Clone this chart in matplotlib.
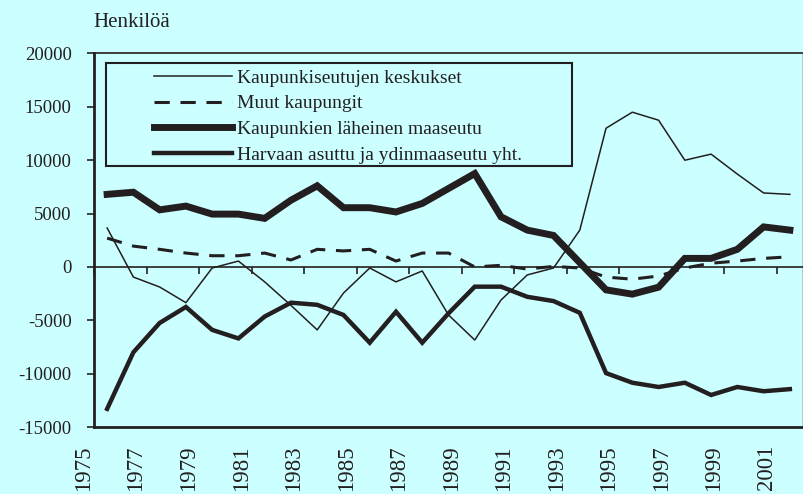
import matplotlib
matplotlib.use('Agg')
import matplotlib.pyplot as plt
from matplotlib.patches import Rectangle
import numpy as np

years = list(range(1976, 2003))
keskukset = [3650, -950, -1880, -3350, -100, 550, -1400, -3600, -5900, -2450,
             -100, -1400, -380, -4500, -6850, -3100, -750, -100, 3450, 13000,
             14500, 13750, 10000, 10570, 8700, 6930, 6800]
muut = [2700, 1950, 1650, 1300, 1050, 1050, 1300, 650, 1650, 1500,
        1650, 550, 1300, 1300, 0, 150, -200, 50, -100, -950,
        -1150, -850, -100, 350, 550, 800, 950]
lahimaaseutu = [6800, 7000, 5350, 5700, 4950, 4950, 4550, 6250, 7600, 5550,
                5550, 5150, 5950, 7350, 8750, 4700, 3450, 2950, 400, -2150,
                -2550, -1900, 800, 800, 1650, 3750, 3450]
harvaan = [-13300, -8000, -5250, -3750, -5900, -6700, -4650, -3350, -3550, -4500,
           -7100, -4200, -7100, -4350, -1850, -1850, -2800, -3200, -4300, -9950,
           -10850, -11250, -10850, -12000, -11250, -11650, -11450]
labels = ['Kaupunkiseutujen keskukset', 'Muut kaupungit',
          'Kaupunkien läheinen maaseutu', 'Harvaan asuttu ja ydinmaaseutu yht.']
xlabels = [str(y) for y in range(1975, 2002, 2)]
ylim = (-15000, 20000)
yticks = list(range(-15000, 20001, 5000))

ink = '#231F20'
bg = '#CCFFFF'
plt.rcParams['font.family'] = ['Liberation Serif', 'DejaVu Serif']
plt.rcParams['text.color'] = ink

fig = plt.figure(figsize=(8.04, 4.94), dpi=100, facecolor=bg)
ax = fig.add_axes([94/804, 1-427/494, 709/804, 373.5/494])
ax.set_facecolor(bg)

# data sit in the middle of each year slot, labels on slot edges (Excel style)
x = np.arange(len(years)) + 0.5
l1, = ax.plot(x, keskukset, color=ink, lw=1.1)
l2, = ax.plot(x, muut, color=ink, lw=2.2, dashes=(5, 3.5))
l3, = ax.plot(x, lahimaaseutu, color=ink, lw=5, solid_joinstyle='miter')
l4, = ax.plot(x, harvaan, color=ink, lw=3.2, solid_joinstyle='miter')

ax.set_xlim(0, len(years))
ax.set_ylim(*ylim)
tickpos = np.arange(0, len(years), 2)
ax.set_xticks(tickpos, xlabels, rotation=90, ha='right', fontsize=16.5)
ax.tick_params(axis='x', length=0, pad=13, colors=ink)
ax.set_yticks(yticks, [str(v) for v in yticks], fontsize=13.5)
ax.tick_params(axis='y', direction='out', length=5, width=1.2, pad=11, colors=ink)

for side, lw in [('left', 2), ('bottom', 2), ('top', 1.2), ('right', 1)]:
    ax.spines[side].set_linewidth(lw)
    ax.spines[side].set_color(ink)

# zero line with the year ticks
zero = ax.secondary_xaxis((0 - ylim[0]) / (ylim[1] - ylim[0]))
zero.set_xticks(tickpos)
zero.tick_params(direction='out', length=5, width=1.2, labelbottom=False,
                 labeltop=False, colors=ink)
for s in zero.spines.values():
    s.set_linewidth(1.2)
    s.set_color(ink)

leg = ax.legend([l1, l2, l3, l4], labels, loc='upper left', frameon=False,
                bbox_to_anchor=(154/804, 1-69/494), bbox_transform=fig.transFigure,
                borderpad=0, borderaxespad=0, handlelength=4.0, handletextpad=0.26,
                labelspacing=0.42, fontsize=14)
fig.patches.append(Rectangle((106/804, 1-166/494), 466/804, 103/494,
                             transform=fig.transFigure, fill=False,
                             edgecolor=ink, lw=1.5))

fig.text(93/804, 1-27/494, 'Henkilöä', ha='left', va='baseline', fontsize=15)

fig.savefig('out.png', dpi=100, facecolor=bg)
